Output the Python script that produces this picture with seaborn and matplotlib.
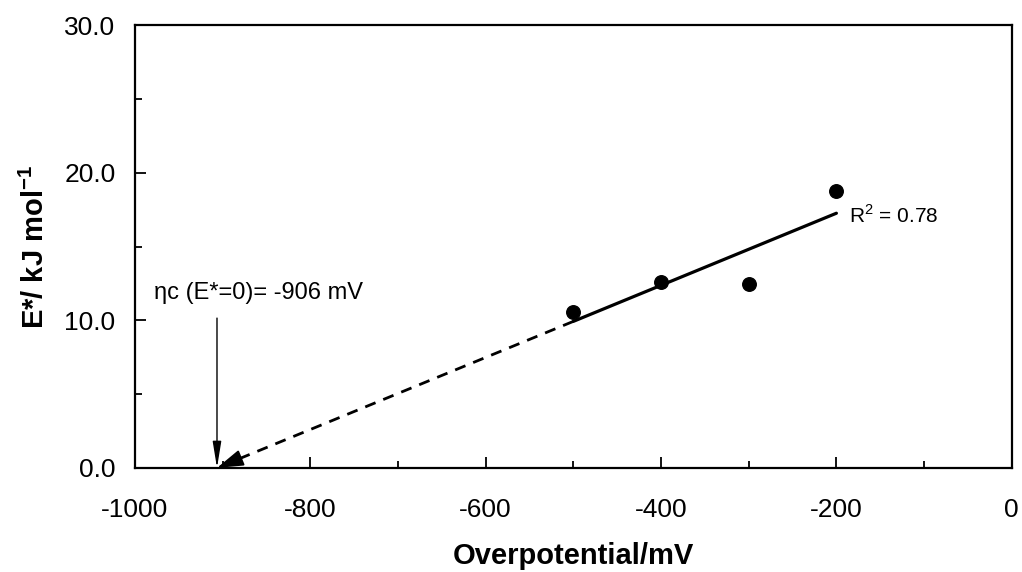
import numpy as np
import seaborn as sns
import matplotlib
matplotlib.use("Agg")
import matplotlib.pyplot as plt
from matplotlib.ticker import MultipleLocator, FormatStrFormatter

# data
overpotential = [-500, -400, -300, -200]
energy = [10.56, 12.60, 12.46, 18.75]
r2_label = "R$^2$ = 0.78"
eta_label = "ηc (E*=0)= -906 mV"

sns.set_style("ticks")
plt.rcParams["font.family"] = ["Liberation Sans", "DejaVu Sans"]
plt.rcParams["mathtext.fontset"] = "custom"
plt.rcParams["mathtext.rm"] = "Liberation Sans"
plt.rcParams["mathtext.bf"] = "Liberation Sans:bold"
plt.rcParams["axes.unicode_minus"] = False
for k in ["text.color", "axes.labelcolor", "xtick.color", "ytick.color", "axes.edgecolor"]:
    plt.rcParams[k] = "black"

fig = plt.figure(figsize=(10.22, 5.72), dpi=100)
ax = fig.add_axes([0.132, 0.182, 0.858, 0.774])

# points + solid fit over the data range
sns.regplot(x=overpotential, y=energy, ci=None, truncate=True, ax=ax,
            scatter_kws=dict(s=95, color="black", edgecolor="black", alpha=1),
            line_kws=dict(color="black", lw=2.3))

# dashed extrapolation to E*=0
slope, icpt = np.polyfit(overpotential, energy, 1)
x0 = -icpt / slope
xs = np.array([min(overpotential), x0 + 25])
ax.plot(xs, slope * xs + icpt, color="black", lw=2, ls=(0, (4, 3)))
ax.annotate("", xy=(x0, 0), xytext=(x0 + 26, slope * 26),
            arrowprops=dict(arrowstyle="-|>,head_width=0.25,head_length=0.8",
                            color="black", lw=1.5, mutation_scale=20,
                            shrinkA=0, shrinkB=0))

# vertical marker arrow
ax.annotate("", xy=(x0, 0), xytext=(x0, 10.15),
            arrowprops=dict(arrowstyle="-|>,head_width=0.13,head_length=0.8",
                            color="black", lw=1, mutation_scale=20,
                            shrinkA=0, shrinkB=0))
ax.text(-978, 11.85, eta_label, fontsize=17, va="center", ha="left")
ax.text(-186, 17.1, r2_label, fontsize=15, va="center", ha="left")

ax.set_xlim(-1000, 0)
ax.set_ylim(0, 30)
ax.xaxis.set_major_locator(MultipleLocator(200))
ax.xaxis.set_minor_locator(MultipleLocator(100))
ax.yaxis.set_major_locator(MultipleLocator(10))
ax.yaxis.set_minor_locator(MultipleLocator(5))
ax.yaxis.set_major_formatter(FormatStrFormatter("%.1f"))

ax.tick_params(which="both", direction="in", width=1.3, labelsize=19)
ax.tick_params(axis="x", which="major", length=8, pad=22)
ax.tick_params(axis="y", which="major", length=8, pad=14)
ax.tick_params(which="minor", length=5)
for s in ax.spines.values():
    s.set_linewidth(1.6)

ax.set_xlabel("Overpotential/mV", fontsize=21, fontweight="bold", labelpad=14)
ax.set_ylabel("E*/ kJ mol$^{\\mathbf{-1}}$", fontsize=21, fontweight="bold", labelpad=10)

fig.savefig("out.png", dpi=100)
